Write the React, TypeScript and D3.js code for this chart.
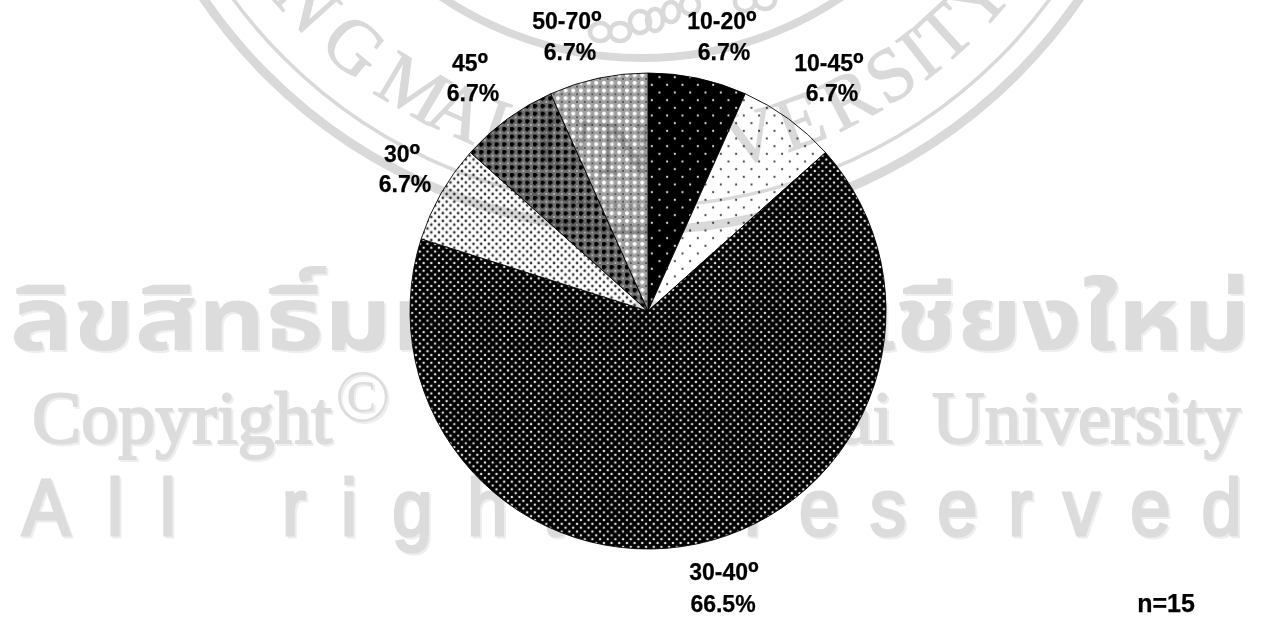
import React from "react";
import * as d3 from "d3";

const categories = ["10-20", "10-45", "30-40", "30", "45", "50-70"];
const degreeMark = "º";
const values = [6.7, 6.7, 66.5, 6.7, 6.7, 6.7];
const percentLabels = ["6.7%", "6.7%", "66.5%", "6.7%", "6.7%", "6.7%"];
const patternIds = ["pA", "pB", "pC", "pD", "pE", "pF"];
const nameX = [722, 829, 724, 402, 470, 567];
const nameY = [29, 71, 580, 162, 71, 29];
const pctX = [724, 832, 723, 405, 473, 570];
const pctY = [60, 101, 612, 192, 101, 60];

const sealLetters = ["N", "G", "M", "A", "I", "U", "N", "I", "V", "E", "R", "S", "I", "T", "Y"];
const sealAngles = [-48, -39.7, -30.5, -24, -19, -10, -2, 6, 14, 20.6, 27.5, 33.6, 38, 42.3, 48.6];
const sealRings = [
  { r: 530, w: 9 },
  { r: 506, w: 3.5 },
  { r: 358, w: 8 },
];
const teeth = [
  { x: 600, y: 32, rx: 10, ry: 9 },
  { x: 620, y: 32, rx: 10, ry: 9 },
  { x: 640, y: 22, rx: 10, ry: 11 },
  { x: 655, y: 20, rx: 8, ry: 11 },
  { x: 671, y: 12, rx: 8, ry: 10 },
  { x: 690, y: 5, rx: 9, ry: 9 },
  { x: 745, y: 2, rx: 10, ry: 9 },
  { x: 765, y: 0, rx: 10, ry: 9 },
];

const W = 1271;
const H = 630;
const cx = 648;
const cy = 311;
const R = 238;
const sealX = 641.5;
const sealY = -300;
const WM = "#dcdcdc";
const WM2 = "#eeeeee";

function Watermark() {
  const big = (txt: string, x: number, y: number, size: number, family: string, extra: any = {}) => {
    const { sw = 0, sx = 1, anchor = "start", ...rest } = extra;
    const tf = (dx: number) => `translate(${x + dx},${y + dx}) scale(${sx},1)`;
    return (
      <g fontFamily={family} fontSize={size} textAnchor={anchor} {...rest}>
        <text transform={tf(2)} fill={WM2} stroke={WM2} strokeWidth={sw}>{txt}</text>
        <text transform={tf(0)} fill={WM} stroke={WM} strokeWidth={sw}>{txt}</text>
      </g>
    );
  };
  const serif = "'Liberation Serif'";
  const sans = "'Liberation Sans'";
  return (
    <g>
      {sealRings.map((r, i) => (
        <circle key={i} cx={sealX} cy={sealY} r={r.r} fill="none" stroke="#d9d9d9" strokeWidth={r.w} />
      ))}
      {sealLetters.map((l, i) => {
        const a = sealAngles[i];
        const rad = (a * Math.PI) / 180;
        const rr = 475;
        const x = sealX + rr * Math.sin(rad);
        const y = sealY + rr * Math.cos(rad);
        return (
          <text key={i} x={0} y={0} textAnchor="middle" fontFamily={serif} fontSize={76} fill="#d9d9d9"
            stroke="#d9d9d9" strokeWidth={1}
            transform={`translate(${x},${y}) rotate(${-a})`}>{l}</text>
        );
      })}
      {teeth.map((t, i) => (
        <ellipse key={i} cx={t.x} cy={t.y} rx={t.rx} ry={t.ry} fill="none" stroke="#d9d9d9" strokeWidth={4.5} />
      ))}
      {big("ลิขสิทธิ์มหาวิทยาลัยเชียงใหม่", 10, 350, 88, "'Noto Sans Thai','Noto Serif Thai','Noto Sans','DejaVu Sans',sans-serif", { fontWeight: 700, sx: 1.19 })}
      {big("Copyright", 32, 443, 74, serif, { sw: 2 })}
      {big("©", 335, 421, 73, serif)}
      {big("by Chiang Mai", 893, 443, 74, serif, { sw: 2, anchor: "end" })}
      {big("University", 932, 443, 73, serif, { sw: 2 })}
      {big("All", 22, 535, 80, sans, { letterSpacing: 41, sw: 3, sx: 0.9 })}
      {big("rights", 282, 535, 80, sans, { letterSpacing: 39, sw: 3, sx: 0.9 })}
      {big("reserved", 744, 535, 80, sans, { letterSpacing: 34.5, sw: 3, sx: 0.9 })}
    </g>
  );
}

function Patterns() {
  const dots = (id: string, p: number, bg: string, fg: string, r: number) => (
    <pattern id={id} width={p} height={p} patternUnits="userSpaceOnUse" key={id}>
      <rect width={p} height={p} fill={bg} />
      <circle cx={p / 4} cy={p / 4} r={r} fill={fg} />
      <circle cx={(3 * p) / 4} cy={(3 * p) / 4} r={r} fill={fg} />
    </pattern>
  );
  const dia = (id: string, bg: string, main: string, minor: string, d: number) => {
    const p = 7.67;
    return (
      <pattern id={id} width={p} height={p} patternUnits="userSpaceOnUse" key={id}>
        <rect width={p} height={p} fill={bg} />
        <path d={`M${p / 4 - d},${p / 4}L${p / 4},${p / 4 - d}L${p / 4 + d},${p / 4}L${p / 4},${p / 4 + d}Z`} fill={main} />
        <circle cx={(3 * p) / 4} cy={(3 * p) / 4} r={0.9} fill={minor} />
      </pattern>
    );
  };
  return (
    <defs>
      {dots("pA", 15.33, "#000", "#ddd", 1.1)}
      {dots("pB", 15.33, "#fff", "#444", 1.1)}
      {dots("pC", 7.67, "#000", "#e4e4e4", 1.25)}
      {dots("pD", 7.67, "#fff", "#333", 1.35)}
      {dia("pE", "#6e6e6e", "#000", "#ccc", 3)}
      {dia("pF", "#a0a0a0", "#fff", "#333", 2.6)}
    </defs>
  );
}

export default function App() {
  const pie = d3.pie<number>().sort(null).value((d) => d);
  const arc = d3.arc<d3.PieArcDatum<number>>().innerRadius(0).outerRadius(R);
  const arcs = pie(values);
  return (
    <svg width={W} height={H} viewBox={`0 0 ${W} ${H}`} style={{ position: "absolute", left: 0, top: 0, background: "#fff" }}>
      <Patterns />
      <Watermark />
      <g transform={`translate(${cx},${cy})`} style={{ mixBlendMode: "multiply" }}>
        {arcs.map((a, i) => (
          <path key={i} d={arc(a) ?? ""} fill={`url(#${patternIds[i]})`} stroke="#000" strokeWidth={0.9} />
        ))}
      </g>
      <g fontFamily="'Liberation Sans'" fontWeight={700} fontSize={23} fill="#000" stroke="#000" strokeWidth={0.25} textAnchor="middle">
        {categories.map((c, i) => (
          <g key={c}>
            <text x={nameX[i]} y={nameY[i]}>{c}<tspan fontSize={29} dy={2}>{degreeMark}</tspan></text>
            <text x={pctX[i]} y={pctY[i]}>{percentLabels[i]}</text>
          </g>
        ))}
        <text x={1166} y={612} fontSize={25}>n=15</text>
      </g>
    </svg>
  );
}
